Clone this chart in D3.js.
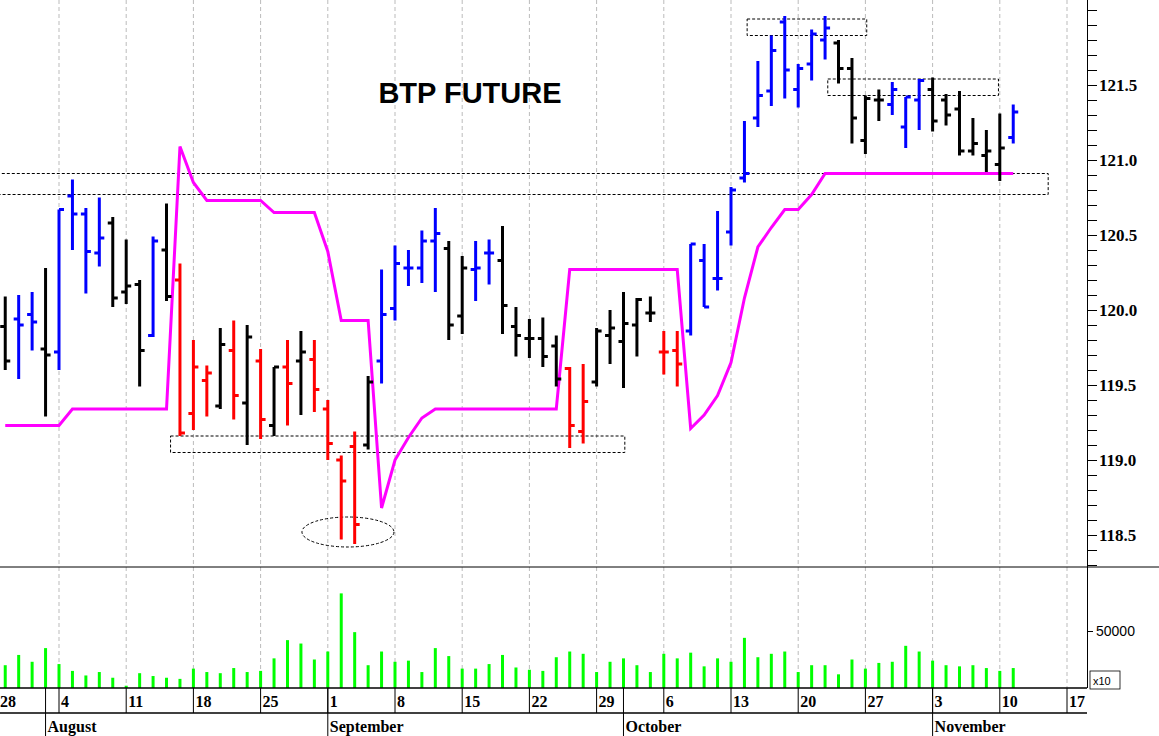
<!DOCTYPE html>
<html><head><meta charset="utf-8">
<script src="https://cdn.jsdelivr.net/npm/d3@7"></script>
<style>body{margin:0;background:#fff}svg{display:block}</style>
</head><body>
<svg id="c" width="1159" height="736"></svg>
<script>
// trading days, index 0 = Mon Aug 4 (first four bars are Jul 29 - Aug 1)
const startIdx = -4;
const open  = [119.89,119.94,119.97,119.74,119.72,120.76,120.64,120.38,120.58,120.12,120.17,119.83,120.40,120.20,119.31,119.53,119.36,119.73,119.38,119.66,119.23,119.62,119.66,119.67,119.34,119.00,119.09,119.10,119.66,120.01,120.28,120.28,120.46,120.41,119.96,120.27,120.38,120.33,119.89,119.81,119.81,119.76,119.61,119.19,119.52,119.83,119.79,119.90,119.98,119.72,119.73,119.86,120.33,120.21,120.52,120.88,121.28,121.46,121.92,121.47,121.64,121.80,121.78,121.61,121.13,121.40,121.37,121.22,121.40,121.47,121.40,121.34,121.06,121.03,120.97,121.15];
const high  = [120.09,120.10,120.12,120.28,120.67,120.87,120.68,120.75,120.62,120.47,120.20,120.49,120.71,120.31,119.80,119.63,119.88,119.93,119.90,119.74,119.62,119.80,119.86,119.80,119.40,119.03,119.19,119.56,120.27,120.43,120.40,120.53,120.68,120.46,120.36,120.46,120.47,120.56,120.02,119.94,119.95,119.83,119.62,119.64,119.88,120.00,120.12,120.08,120.09,119.86,119.86,120.44,120.44,120.66,120.82,121.26,121.66,121.83,121.96,121.64,121.87,121.96,121.80,121.68,121.43,121.47,121.52,121.42,121.54,121.55,121.44,121.46,121.28,121.20,121.31,121.37];
const low   = [119.60,119.54,119.73,119.29,119.60,120.40,120.11,120.29,120.02,120.04,119.49,119.82,120.06,119.16,119.20,119.29,119.34,119.27,119.10,119.14,119.16,119.23,119.30,119.32,119.00,118.47,118.44,119.07,119.51,119.93,120.16,120.18,120.12,119.80,119.84,120.06,120.17,119.84,119.69,119.68,119.62,119.49,119.08,119.11,119.49,119.64,119.48,119.69,119.92,119.57,119.49,119.83,120.02,120.13,120.43,120.85,121.22,121.36,121.41,121.35,121.53,121.67,121.51,121.11,121.04,121.26,121.30,121.08,121.20,121.19,121.23,121.03,121.03,120.92,120.86,121.11];
const close = [119.66,119.90,119.92,119.70,120.67,120.64,120.39,120.48,120.08,120.16,119.73,120.46,120.09,119.18,119.62,119.58,119.77,119.43,119.82,119.27,119.62,119.51,119.72,119.47,119.11,118.86,118.57,119.52,119.97,120.31,120.28,120.46,120.51,119.90,120.28,120.28,120.38,120.03,119.83,119.81,119.69,119.54,119.23,119.39,119.86,119.88,119.91,120.07,119.98,119.72,119.64,120.44,120.02,120.21,120.80,120.91,121.43,121.73,121.60,121.61,121.84,121.88,121.61,121.28,121.41,121.40,121.47,121.42,121.53,121.26,121.30,121.06,121.11,121.06,121.08,121.32];
const barColor = "kbbkbbbbkkkbkrrrkrkrkrkrrrrkbbbbbkkbbkkkkkrrkkkkkrrbbbbbbbbbbbkkkkbbbkkkkkkb";
const stopLine = [119.23,119.23,119.23,119.23,119.23,119.34,119.34,119.34,119.34,119.34,119.34,119.34,119.34,121.09,120.85,120.73,120.73,120.73,120.73,120.73,120.65,120.65,120.65,120.65,120.39,119.93,119.93,119.93,118.68,119.00,119.15,119.28,119.34,119.34,119.34,119.34,119.34,119.34,119.34,119.34,119.34,119.34,120.27,120.27,120.27,120.27,120.27,120.27,120.27,120.27,120.27,119.21,119.30,119.43,119.65,120.08,120.42,120.55,120.67,120.67,120.77,120.91,120.91,120.91,120.91,120.91,120.91,120.91,120.91,120.91,120.91,120.91,120.91,120.91,120.91,120.91];
const volume = [20000,29000,23000,35000,21000,15000,11000,14000,9000,2000,13000,10500,9000,8000,17000,14000,13000,17500,14000,15000,26000,42000,39000,25000,32000,83000,49000,20000,32000,23000,24000,14000,35000,28000,17000,17000,21000,29000,18000,16000,15000,27000,32000,30000,14000,23000,26000,20000,14000,30000,26000,31000,19000,26000,23000,44000,27000,30000,32000,14000,20000,20000,12000,25000,17000,22000,23000,37000,32000,24000,20000,19000,20000,17500,15000,17500];
const weekLabels = ["28","4","11","18","25","1","8","15","22","29","6","13","20","27","3","10","17"];
const monthLabels = ["August","September","October","November"];
const monthStart = [-1, 20, 42, 65];   // index of first trading day of each month
const priceTicks = [118.5,119.0,119.5,120.0,120.5,121.0,121.5];

const colors = {k:"#000000", b:"#0000ff", r:"#ff0000"};
const bars = open.map((o,i)=>({i:startIdx+i,o,h:high[i],l:low[i],c:close[i],col:colors[barColor[i]],stop:stopLine[i],v:volume[i]}));

const svg = d3.select("#c");
const x = d3.scaleLinear().domain([0,1]).range([59,72.44]);
const y = d3.scaleLinear().domain([118,122]).range([610,10]);
const yv = d3.scaleLinear().domain([0,50000]).range([688,631]);
const axisX = 1087, priceBottom = 567, volBottom = 688;

svg.append("defs").append("clipPath").attr("id","pc").append("rect")
  .attr("x",0).attr("y",0).attr("width",axisX).attr("height",priceBottom);

// weekly grid
const weeks = weekLabels.map((t,k)=>({t,i:(k-1)*5}));
svg.append("g").selectAll("line").data(weeks).join("line")
  .attr("x1",d=>x(d.i)).attr("x2",d=>x(d.i)).attr("y1",0).attr("y2",volBottom)
  .attr("stroke","#bbb").attr("stroke-dasharray","4,3");

const pg = svg.append("g").attr("clip-path","url(#pc)");

// annotations
const dash = {fill:"none",stroke:"#000","stroke-width":1,"stroke-dasharray":"3,2"};
function box(i0,i1,p0,p1){
  const r = pg.append("rect").attr("x",x(i0)).attr("width",x(i1)-x(i0))
    .attr("y",y(p1)).attr("height",y(p0)-y(p1));
  Object.entries(dash).forEach(([k,v])=>r.attr(k,v));
}
box(8.3,42.1,119.05,119.16);
box(-5,73.6,120.77,120.91);
box(51.2,60.1,121.83,121.94);
box(57.2,69.9,121.43,121.54);
const el = pg.append("ellipse").attr("cx",x(21.5)).attr("cy",y(118.52)).attr("rx",46).attr("ry",15);
Object.entries(dash).forEach(([k,v])=>el.attr(k,v));

// stop line
pg.append("path").datum(bars)
  .attr("d",d3.line().x(d=>x(d.i)).y(d=>y(d.stop)))
  .attr("fill","none").attr("stroke","#ff00ff").attr("stroke-width",3);

// OHLC bars
const bg = pg.append("g").attr("stroke-width",3);
bg.selectAll(".hl").data(bars).join("line")
  .attr("x1",d=>x(d.i)).attr("x2",d=>x(d.i)).attr("y1",d=>y(d.h)).attr("y2",d=>y(d.l)).attr("stroke",d=>d.col);
bg.selectAll(".o").data(bars).join("line")
  .attr("x1",d=>x(d.i)-5).attr("x2",d=>x(d.i)).attr("y1",d=>y(d.o)).attr("y2",d=>y(d.o)).attr("stroke",d=>d.col);
bg.selectAll(".c").data(bars).join("line")
  .attr("x1",d=>x(d.i)).attr("x2",d=>x(d.i)+5).attr("y1",d=>y(d.c)).attr("y2",d=>y(d.c)).attr("stroke",d=>d.col);

svg.append("text").attr("x",470).attr("y",103).attr("text-anchor","middle")
  .attr("font-family","Liberation Sans, Arial").attr("font-weight","bold").attr("font-size",29).text("BTP FUTURE");

// panel separator
svg.append("line").attr("x1",0).attr("x2",1159).attr("y1",priceBottom).attr("y2",priceBottom).attr("stroke","#000");

// price axis
const ya = svg.append("g").attr("transform",`translate(${axisX},0)`)
  .call(d3.axisRight(y).tickValues(d3.range(118.3,122.05,0.1)).tickSize(10).tickFormat(d=>{
    const r = Math.round(d*10)/10; return priceTicks.includes(r) ? r.toFixed(1) : ""; }));
ya.select(".domain").attr("d",`M0.5,0V${priceBottom}`);
ya.selectAll("text").attr("x",12).attr("font-family","Liberation Serif, Times New Roman").attr("font-weight","bold").attr("font-size",17).attr("fill","#000");

// volume
svg.append("g").selectAll("line").data(bars).join("line")
  .attr("x1",d=>x(d.i)).attr("x2",d=>x(d.i)).attr("y1",volBottom).attr("y2",d=>yv(d.v))
  .attr("stroke","#00ff00").attr("stroke-width",3);
const va = svg.append("g").attr("transform",`translate(${axisX},0)`)
  .call(d3.axisRight(yv).tickValues([50000]).tickSize(6).tickFormat(d3.format("d")));
va.select(".domain").attr("d",`M0.5,${priceBottom}V${volBottom}`);
va.selectAll("text").attr("font-family","Liberation Sans, Arial").attr("font-size",14).attr("fill","#000");
svg.append("rect").attr("x",axisX+3).attr("y",671).attr("width",30).attr("height",18).attr("fill","none").attr("stroke","#000").attr("stroke-width",0.8);
svg.append("text").attr("x",axisX+6).attr("y",685).attr("font-family","Liberation Sans, Arial").attr("font-size",11).text("x10");

// time axis
const ta = svg.append("g");
ta.append("line").attr("x1",0).attr("x2",axisX).attr("y1",volBottom).attr("y2",volBottom).attr("stroke","#000").attr("stroke-width",1.5);
ta.append("line").attr("x1",0).attr("x2",axisX).attr("y1",713).attr("y2",713).attr("stroke","#000").attr("stroke-width",1.5);
ta.selectAll(".wk").data(weeks).join("line")
  .attr("x1",d=>x(d.i)).attr("x2",d=>x(d.i)).attr("y1",volBottom).attr("y2",713).attr("stroke","#000");
ta.selectAll(".wt").data(weeks).join("text")
  .attr("x",d=>Math.max(x(d.i)+2,0)).attr("y",707).text(d=>d.t)
  .attr("font-family","Liberation Serif, Times New Roman").attr("font-weight","bold").attr("font-size",16);
const months = monthLabels.map((t,k)=>({t,i:monthStart[k]}));
ta.selectAll(".mk").data(months).join("line")
  .attr("x1",d=>x(d.i)).attr("x2",d=>x(d.i)).attr("y1",volBottom).attr("y2",736).attr("stroke","#000");
ta.selectAll(".mt").data(months).join("text")
  .attr("x",d=>x(d.i)+2).attr("y",732).text(d=>d.t)
  .attr("font-family","Liberation Serif, Times New Roman").attr("font-weight","bold").attr("font-size",16);
</script>
</body></html>
